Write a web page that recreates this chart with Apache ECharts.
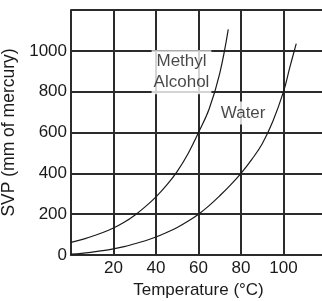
<!DOCTYPE html>
<html>
<head>
<meta charset="utf-8">
<script src="https://cdn.jsdelivr.net/npm/echarts@6/dist/echarts.min.js"></script>
<style>
  html, body { margin: 0; padding: 0; background: #fff; }
  #chart { width: 322px; height: 301px; }
</style>
</head>
<body>
<div id="chart"></div>
<script>
// values
const methylTemp = [0, 5, 10, 15, 20, 25, 30, 35, 40, 45, 50, 55, 60, 65, 70, 74];
const methylSvp = [62, 75, 92, 110, 132, 160, 195, 237, 285, 342, 410, 495, 600, 715, 890, 1105];
const waterTemp = [0, 5, 10, 15, 20, 25, 30, 35, 40, 45, 50, 55, 60, 65, 70, 75, 80, 85, 90, 95, 100, 103, 106];
const waterSvp = [4, 8, 14, 21, 30, 41, 55, 70, 88, 110, 135, 165, 200, 242, 290, 342, 400, 467, 545, 655, 800, 920, 1035];
const xTicks = [20, 40, 60, 80, 100];
const yTicks = [0, 200, 400, 600, 800, 1000];

const ink = '#1a1a1a';
const gridLine = { color: '#2b2b2b', width: 2 };

const pairs = (xs, ys) => xs.map((x, i) => [x, ys[i]]);

const curve = (name, xs, ys) => ({
  name,
  type: 'line',
  smooth: 0.4,
  symbol: 'none',
  data: pairs(xs, ys),
  lineStyle: { color: ink, width: 1.2 },
  z: 3,
});

const note = (text, at) => ({
  type: 'scatter',
  symbolSize: 1,
  data: [at],
  silent: true,
  z: 5,
  itemStyle: { color: 'transparent' },
  label: {
    show: true,
    position: 'inside',
    formatter: text,
    color: ink,
    fontSize: 17,
    lineHeight: 21,
    align: 'center',
    textBorderWidth: 0,
    backgroundColor: '#fff',
    padding: [1, 2],
    fontFamily: 'Liberation Sans, Arial, sans-serif',
  },
});

const option = {
  animation: false,
  textStyle: { fontFamily: 'Liberation Sans, Arial, sans-serif' },
  grid: { left: 71, top: 10, right: -4, bottom: 46, outerBoundsMode: 'none' },
  xAxis: {
    type: 'value',
    min: 0,
    max: 120,
    interval: 20,
    name: 'Temperature (°C)',
    nameLocation: 'middle',
    nameGap: 22,
    nameTextStyle: { color: ink, fontSize: 17 },
    axisLine: { show: true, lineStyle: gridLine },
    axisTick: { show: false },
    axisLabel: {
      color: ink,
      fontSize: 17,
      margin: 5,
      formatter: (v) => (xTicks.includes(v) ? String(v) : ''),
    },
    splitLine: { show: true, lineStyle: gridLine },
  },
  yAxis: {
    type: 'value',
    min: 0,
    max: 1200,
    interval: 200,
    name: 'SVP (mm of mercury)',
    nameLocation: 'middle',
    nameGap: 45,
    nameTextStyle: { color: ink, fontSize: 17.5 },
    axisLine: { show: true, lineStyle: gridLine },
    axisTick: { show: false },
    axisLabel: {
      color: ink,
      fontSize: 17,
      margin: 4,
      formatter: (v) => (yTicks.includes(v) ? String(v) : ''),
    },
    splitLine: { show: true, lineStyle: gridLine },
  },
  series: [
    curve('Methyl Alcohol', methylTemp, methylSvp),
    curve('Water', waterTemp, waterSvp),
    note('Methyl\nAlcohol', [52, 895]),
    note('Water', [81, 696]),
  ],
};

const chart = echarts.init(document.getElementById('chart'));
chart.setOption(option);
</script>
</body>
</html>
